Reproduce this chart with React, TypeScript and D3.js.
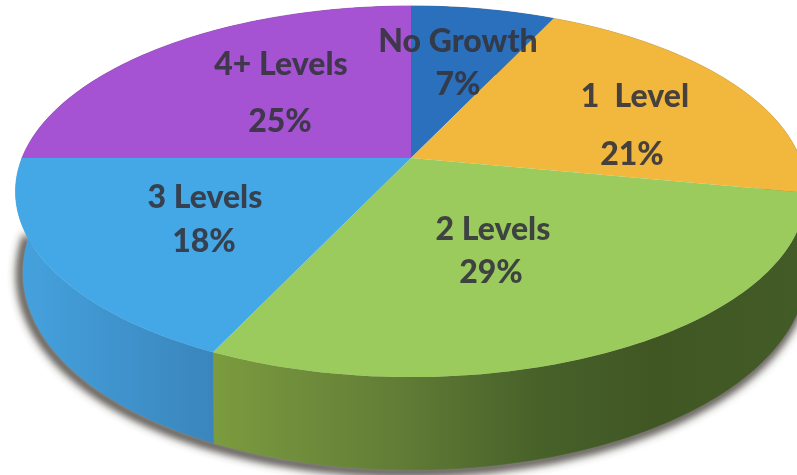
import React from 'react';
import * as d3 from 'd3';

const categories = ['No Growth', '1  Level', '2 Levels', '3 Levels', '4+ Levels'];
const shares = [7, 21, 29, 18, 25];
const topColors = ['#2a70bd', '#f2b73d', '#9bcb5d', '#45a8e6', '#a653d3'];

// where each label sits: [x of name, y of name, x of value, y of value]
const labelSpots = [
  [458, 52, 458, 95],
  [635, 107, 632, 165],
  [493, 240, 491, 283],
  [205, 208, 204, 252],
  [281, 75, 280, 132],
];

const width = 797;
const height = 475;

// the pie is a unit circle seen in perspective: centre is not the middle of the ellipse
const cx = 411;
const cy = 158;
const rx = 389;
const ry = 179.5;
const tilt = 0.1806;
const depth = 76;
const leftInset = 8; // the bottom rim pulls in a bit on the left side

function project(angle: number, drop = 0): [number, number] {
  const u = Math.sin(angle);
  const v = -Math.cos(angle);
  const w = 1 - tilt * v;
  const inset = drop ? leftInset * Math.pow(Math.max(0, -u), 3) : 0;
  return [cx + (rx * u) / w + inset, cy + (ry * v) / w + drop / w];
}

function rim(a0: number, a1: number, drop = 0) {
  const n = Math.max(2, Math.ceil(Math.abs(a1 - a0) / 0.02));
  return d3.range(n + 1).map((i) => project(a0 + ((a1 - a0) * i) / n, drop));
}

const line = d3.line();

export default function App() {
  const slices = d3.pie<number>().sort(null)(shares);
  const silhouette = rim(Math.PI * 0.3, Math.PI * 1.5, depth);

  return (
    <svg
      width={width}
      height={height}
      viewBox={`0 0 ${width} ${height}`}
      style={{ position: 'absolute', left: 0, top: 0, background: '#fff' }}
    >
      <defs>
        <filter id="shadowBlur" x="-10%" y="-10%" width="120%" height="120%">
          <feGaussianBlur stdDeviation="4" />
        </filter>
        <filter id="textSoft" x="-5%" y="-5%" width="110%" height="110%">
          <feGaussianBlur stdDeviation="0.5" />
        </filter>
        <linearGradient id="wall2" gradientUnits="userSpaceOnUse" x1="210" x2="797" y1="0" y2="0">
          <stop offset="0" stopColor="#7c9c3f" />
          <stop offset="0.3" stopColor="#637f37" />
          <stop offset="0.55" stopColor="#48622a" />
          <stop offset="0.75" stopColor="#405724" />
          <stop offset="1" stopColor="#435b27" />
        </linearGradient>
        <linearGradient id="wall3" gradientUnits="userSpaceOnUse" x1="17" x2="215" y1="0" y2="0">
          <stop offset="0" stopColor="#45a2de" />
          <stop offset="1" stopColor="#3a85bc" />
        </linearGradient>
      </defs>

      <path
        d={line(silhouette) ?? ''}
        fill="none"
        stroke="#3f3a34"
        strokeWidth={9}
        filter="url(#shadowBlur)"
        transform="translate(-2,2)"
      />

      {slices.map((s, i) => {
        const pts = [...rim(s.startAngle, s.endAngle), ...rim(s.endAngle, s.startAngle, depth)];
        const fill = i === 2 ? 'url(#wall2)' : i === 3 ? 'url(#wall3)' : d3.color(topColors[i])!.darker(0.8).formatHex();
        return <path key={categories[i] + '-wall'} d={(line(pts) ?? '') + 'Z'} fill={fill} stroke={fill} strokeWidth={0.6} />;
      })}

      {slices.map((s, i) => {
        const pts: [number, number][] = [[cx, cy], ...rim(s.startAngle, s.endAngle)];
        return <path key={categories[i]} d={(line(pts) ?? '') + 'Z'} fill={topColors[i]} />;
      })}

      <g
        fontFamily="Lato, sans-serif"
        fontWeight={900}
        fontSize={32}
        textAnchor="middle"
        fill="#33343e"
        fillOpacity={0.9}
        filter="url(#textSoft)"
      >
        {categories.map((name, i) => (
          <g key={name}>
            <text x={labelSpots[i][0]} y={labelSpots[i][1]} xmlSpace="preserve" style={{ whiteSpace: 'pre' }}>{name}</text>
            <text x={labelSpots[i][2]} y={labelSpots[i][3]}>{shares[i]}%</text>
          </g>
        ))}
      </g>
    </svg>
  );
}
